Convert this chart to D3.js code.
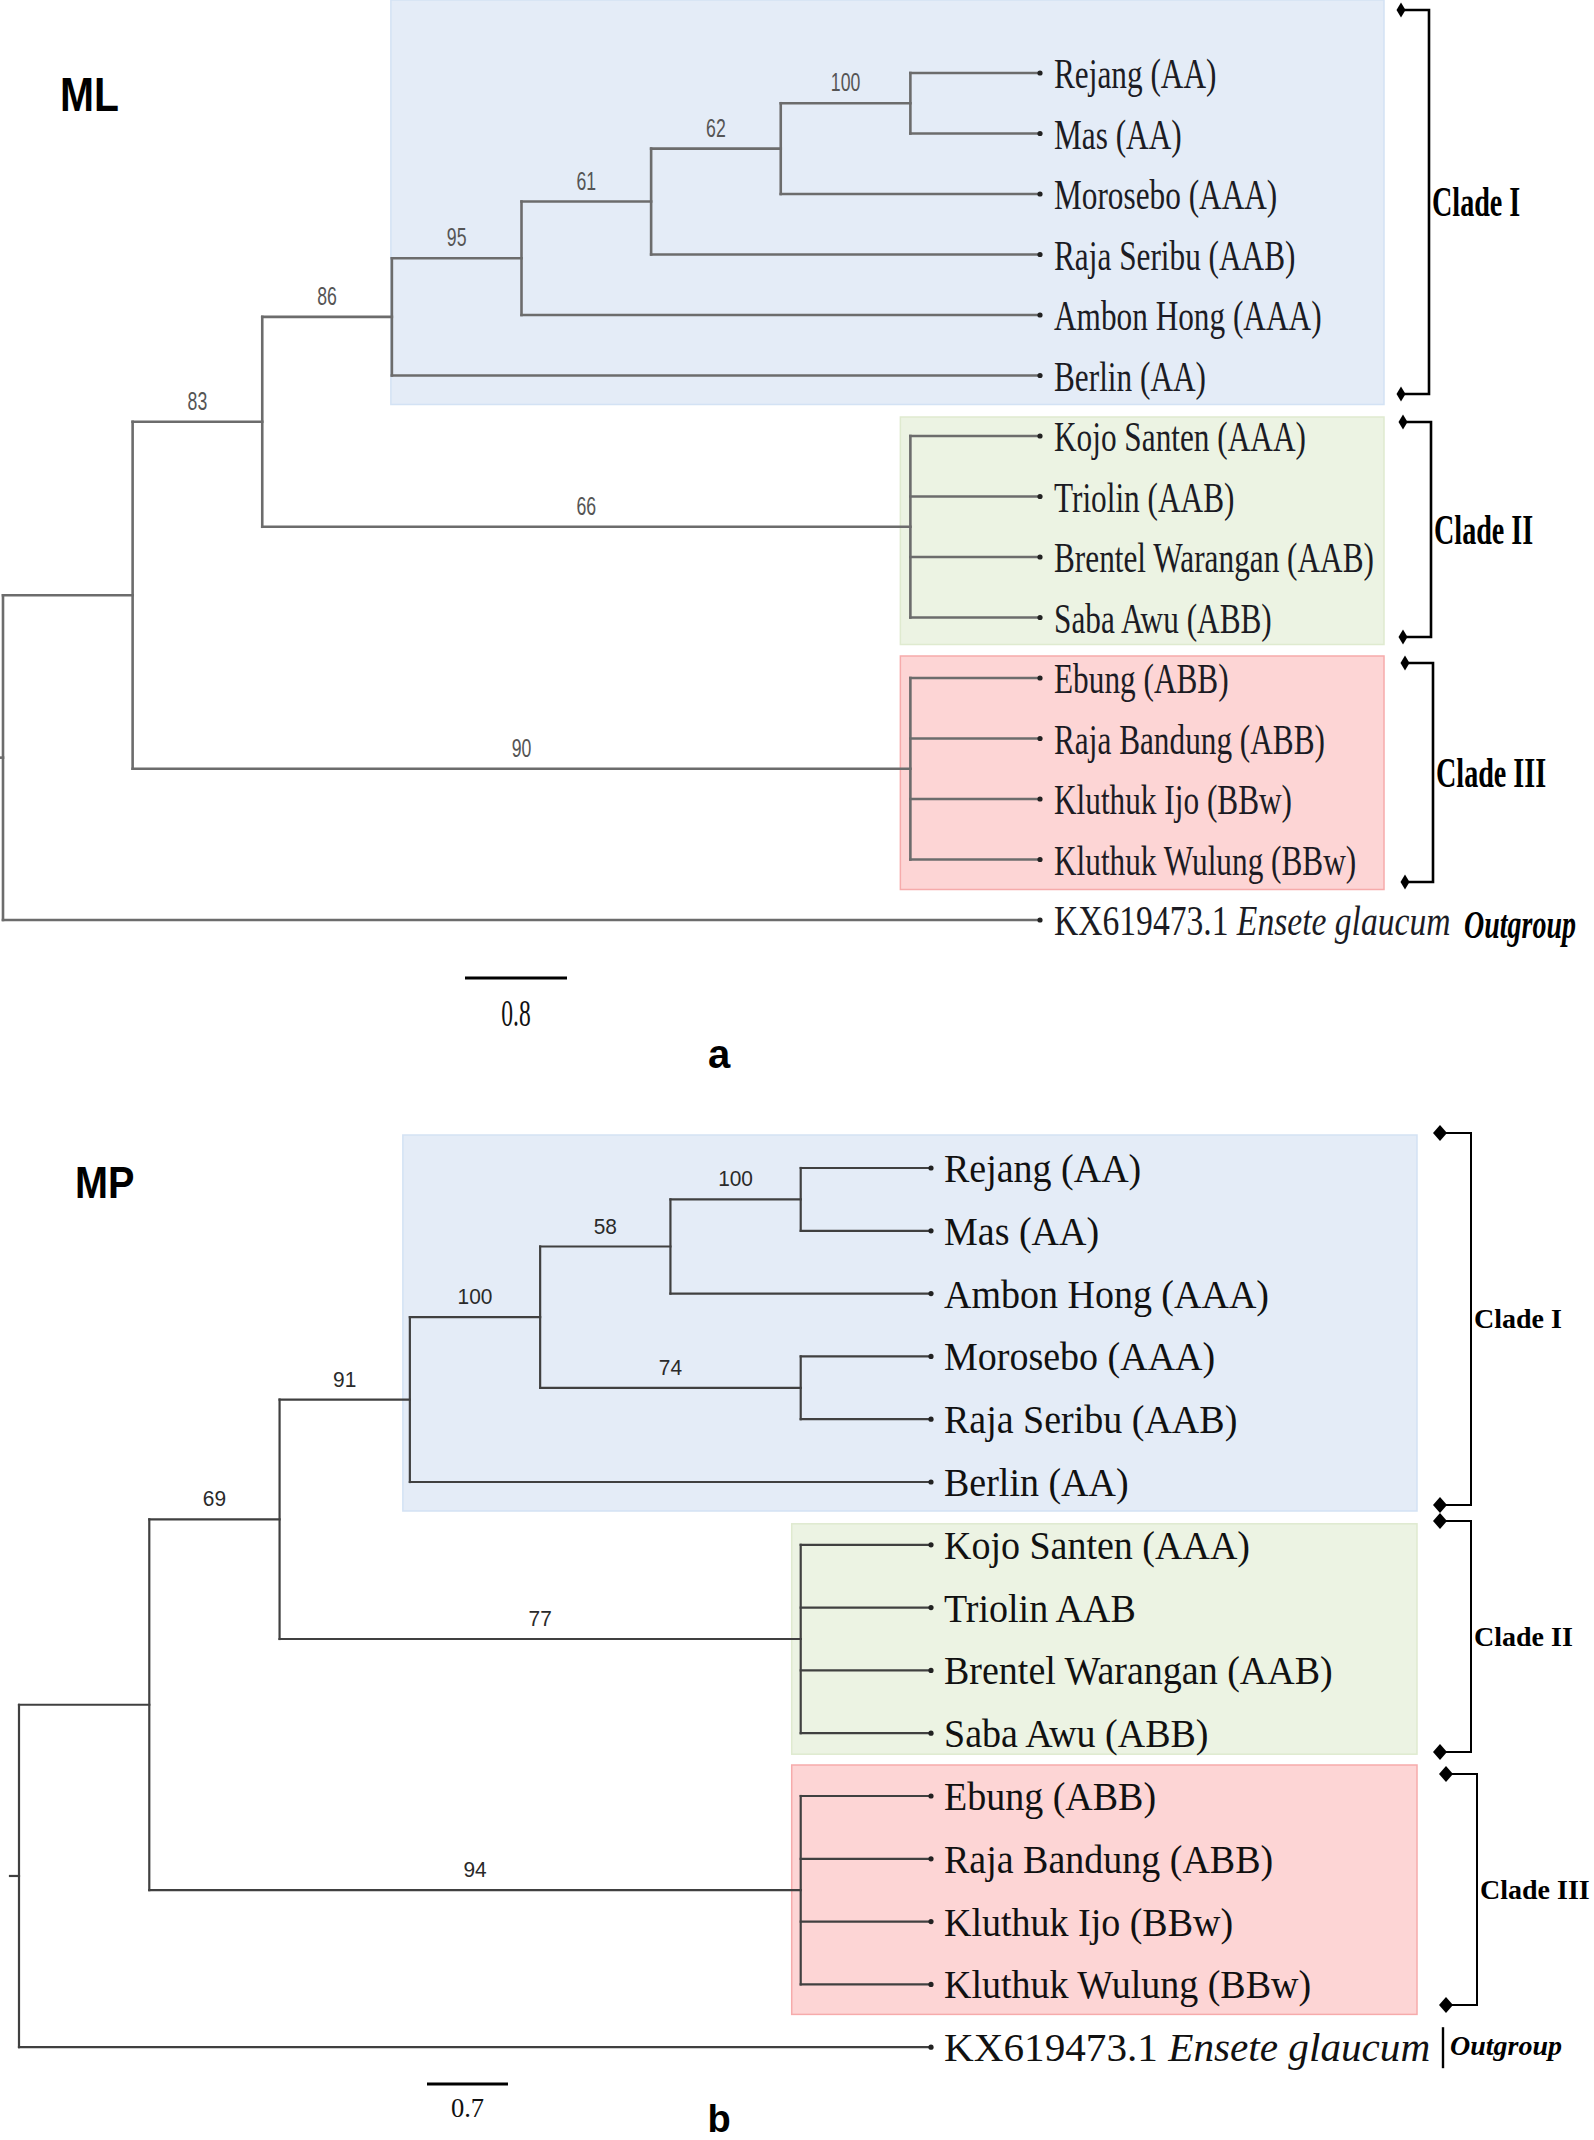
<!DOCTYPE html>
<html><head><meta charset="utf-8">
<script src="https://cdn.jsdelivr.net/npm/d3@7"></script>
<style>body{margin:0;background:#fff} svg{display:block}</style>
</head><body>
<svg id="chart" width="1594" height="2140"></svg>
<script>
// ---------------- DATA ----------------
// edges: [node, parent, bootstrap support]
const mlEdges = [
  ["root", null, null],
  ["n1", "root", null],
  ["n2", "n1", 83],
  ["n3", "n2", 86],
  ["n4", "n3", 95],
  ["n5", "n4", 61],
  ["n6", "n5", 62],
  ["n7", "n6", 100],
  ["Rejang (AA)", "n7", null],
  ["Mas (AA)", "n7", null],
  ["Morosebo (AAA)", "n6", null],
  ["Raja Seribu (AAB)", "n5", null],
  ["Ambon Hong (AAA)", "n4", null],
  ["Berlin (AA)", "n3", null],
  ["c2", "n2", 66],
  ["Kojo Santen (AAA)", "c2", null],
  ["Triolin (AAB)", "c2", null],
  ["Brentel Warangan (AAB)", "c2", null],
  ["Saba Awu (ABB)", "c2", null],
  ["c3", "n1", 90],
  ["Ebung (ABB)", "c3", null],
  ["Raja Bandung (ABB)", "c3", null],
  ["Kluthuk Ijo (BBw)", "c3", null],
  ["Kluthuk Wulung (BBw)", "c3", null],
  ["OUT", "root", null]
];
const mpEdges = [
  ["root", null, null],
  ["n1", "root", null],
  ["n2", "n1", 69],
  ["n3", "n2", 91],
  ["n4", "n3", 100],
  ["n5", "n4", 58],
  ["n6", "n5", 100],
  ["Rejang (AA)", "n6", null],
  ["Mas (AA)", "n6", null],
  ["Ambon Hong (AAA)", "n5", null],
  ["n7", "n4", 74],
  ["Morosebo (AAA)", "n7", null],
  ["Raja Seribu (AAB)", "n7", null],
  ["Berlin (AA)", "n3", null],
  ["c2", "n2", 77],
  ["Kojo Santen (AAA)", "c2", null],
  ["Triolin AAB", "c2", null],
  ["Brentel Warangan (AAB)", "c2", null],
  ["Saba Awu (ABB)", "c2", null],
  ["c3", "n1", 94],
  ["Ebung (ABB)", "c3", null],
  ["Raja Bandung (ABB)", "c3", null],
  ["Kluthuk Ijo (BBw)", "c3", null],
  ["Kluthuk Wulung (BBw)", "c3", null],
  ["OUT", "root", null]
];
const outgroupCode = "KX619473.1";
const outgroupSpecies = "Ensete glaucum";
const outgroupTag = "Outgroup";
const cladeNames = ["Clade I", "Clade II", "Clade III"];
const cladeRootNodes = ["n3", "c2", "c3"];
const mlCladeSpans = [["Rejang (AA)", "Berlin (AA)"], ["Kojo Santen (AAA)", "Saba Awu (ABB)"], ["Ebung (ABB)", "Kluthuk Wulung (BBw)"]];
const mpCladeSpans = [["Rejang (AA)", "Berlin (AA)"], ["Kojo Santen (AAA)", "Saba Awu (ABB)"], ["Ebung (ABB)", "Kluthuk Wulung (BBw)"]];
const panelTitles = ["ML", "MP"];
const panelLetters = ["a", "b"];
const scaleBarValues = [0.8, 0.7];

// ---------------- LAYOUT / STYLE ----------------
const svg = d3.select("#chart");
const boxFills = ["#e4ecf7", "#ecf3e3", "#fdd5d5"];
const boxStrokes = ["#d3e2f4", "#dfeacf", "#f6abab"];

const panels = [
  {
    edges: mlEdges, spans: mlCladeSpans, title: panelTitles[0], letter: panelLetters[0], bar: scaleBarValues[0],
    y0: 73, step: 60.5, xRoot: 3, xTip: 1040, stub: 4,
    line: "#6c6c6c", lw: 2.6,
    labFont: 42, labSX: 0.745, labDX: 14, labDY: 15, labColor: "#1c1c24", outLabSX: 0.8,
    bootFont: 26, bootSX: 0.68, bootColor: "#555", bootDY: 12,
    boxTop: [-73, -19, -22], boxBot: [29, 27, 30], boxDX: [-1, -10, -10], boxRight: 1384,
    brX: [1429, 1431, 1433], brTop: [10, 422, 663], brBot: [394, 637, 882], brTick: 28, mW: 4.5, mH: 7.5, brLW: 2.6,
    cladeFont: 42, cladeSX: 0.67, cladeDY: 14,
    outX: 1464, outDY: 18, outFont: 40, outSX: 0.7, outBar: false,
    titleX: 60, titleY: 111, titleFont: 48, titleSX: 0.85,
    letterX: 719, letterY: 1068, letterFont: 40,
    barX: 465, barY: 978, pxPerUnit: 127.5, barLabY: 1026, barFont: 38, barSX: 0.62
  },
  {
    edges: mpEdges, spans: mpCladeSpans, title: panelTitles[1], letter: panelLetters[1], bar: scaleBarValues[1],
    y0: 1168, step: 62.8, xRoot: 19, xTip: 931, stub: 9,
    line: "#404040", lw: 2.2,
    labFont: 40, labSX: 0.95, labDX: 13, labDY: 14, labColor: "#111", outLabSX: 1.03,
    bootFont: 22, bootSX: 0.95, bootColor: "#2a2a2a", bootDY: 13,
    boxTop: [-33, -21, -31], boxBot: [29, 21, 30], boxDX: [-7, -9, -9], boxRight: 1417,
    brX: [1471, 1471, 1477], brTop: [1133, 1521, 1774], brBot: [1505, 1752, 2005], brTick: 31, mW: 7, mH: 8, brLW: 2,
    cladeFont: 28, cladeSX: 1, cladeDY: 9,
    outX: 1450, outDY: 8, outFont: 28, outSX: 1, outBar: true,
    titleX: 75, titleY: 1198, titleFont: 44, titleSX: 0.9,
    letterX: 719, letterY: 2132, letterFont: 38,
    barX: 427, barY: 2084, pxPerUnit: 115.7, barLabY: 2117, barFont: 28, barSX: 0.95
  }
];

function sText(g, x, y, sx, txt) {
  return g.append("text").attr("transform", `translate(${x},${y}) scale(${sx},1)`).text(txt);
}

panels.forEach(P => {
  const g = svg.append("g");
  const root = d3.stratify().id(d => d[0]).parentId(d => d[1])(P.edges);
  const nLeaves = root.leaves().length;
  // d3.cluster pads half a step at each end, so size by nLeaves steps
  d3.cluster().size([nLeaves * P.step, P.xTip - P.xRoot]).separation(() => 1)(root);
  const X = d => P.xRoot + d.y;                 // horizontal position
  const Y = d => P.y0 - P.step / 2 + d.x;       // vertical position
  const byId = new Map(root.descendants().map(d => [d.id, d]));

  // clade boxes
  P.spans.forEach((s, i) => {
    const a = byId.get(s[0]), b = byId.get(s[1]), cn = byId.get(cladeRootNodes[i]);
    const x0 = X(cn) + P.boxDX[i];
    const y0 = Math.max(0, Y(a) + P.boxTop[i]);
    const y1 = Y(b) + P.boxBot[i];
    g.append("rect").attr("x", x0).attr("y", y0).attr("width", P.boxRight - x0).attr("height", y1 - y0)
      .attr("fill", boxFills[i]).attr("stroke", boxStrokes[i]).attr("stroke-width", 1.5);
  });

  const tree = g.append("g").attr("stroke", P.line).attr("stroke-width", P.lw).attr("fill", "none").attr("stroke-linecap", "square");
  tree.selectAll(".h").data(root.descendants().filter(d => d.parent)).join("line")
    .attr("x1", d => X(d.parent)).attr("x2", d => X(d)).attr("y1", d => Y(d)).attr("y2", d => Y(d));
  tree.selectAll(".v").data(root.descendants().filter(d => d.children)).join("line")
    .attr("x1", d => X(d)).attr("x2", d => X(d))
    .attr("y1", d => Y(d.children[0])).attr("y2", d => Y(d.children[d.children.length - 1]));
  tree.append("line").attr("x1", X(root) - P.stub).attr("x2", X(root)).attr("y1", Y(root)).attr("y2", Y(root));

  // bootstrap labels
  g.selectAll(".boot").data(root.descendants().filter(d => d.parent && d.data[2] != null)).join("text")
    .attr("transform", d => `translate(${(X(d.parent) + X(d)) / 2},${Y(d) - P.bootDY}) scale(${P.bootSX},1)`)
    .attr("text-anchor", "middle").attr("font-family", "Liberation Sans, Arial, sans-serif")
    .attr("font-size", P.bootFont).attr("fill", P.bootColor).text(d => d.data[2]);

  // tips + labels
  const leaves = root.leaves();
  g.selectAll(".tip").data(leaves).join("circle").attr("cx", d => X(d)).attr("cy", d => Y(d)).attr("r", 2.6).attr("fill", "#222");
  leaves.forEach(d => {
    const isOut = d.id === "OUT";
    const t = g.append("text")
      .attr("transform", `translate(${X(d) + P.labDX},${Y(d) + P.labDY}) scale(${isOut ? P.outLabSX : P.labSX},1)`)
      .attr("font-family", "Liberation Serif, Times New Roman, serif").attr("font-size", P.labFont).attr("fill", P.labColor);
    if (isOut) {
      t.append("tspan").text(outgroupCode + " ");
      t.append("tspan").attr("font-style", "italic").text(outgroupSpecies);
    } else t.text(d.id);
  });

  // outgroup tag
  const outLeaf = byId.get("OUT");
  if (P.outBar) {
    g.append("line").attr("x1", P.outX - 7).attr("x2", P.outX - 7).attr("y1", Y(outLeaf) - 20).attr("y2", Y(outLeaf) + 21)
      .attr("stroke", "#000").attr("stroke-width", 2.4);
  }
  sText(g, P.outX, Y(outLeaf) + P.outDY, P.outSX, outgroupTag)
    .attr("font-family", "Liberation Serif, Times New Roman, serif").attr("font-weight", "bold").attr("font-style", "italic")
    .attr("font-size", P.outFont).attr("fill", "#000");

  // brackets
  cladeNames.forEach((name, i) => {
    const bx = P.brX[i], t = P.brTop[i], b = P.brBot[i], mx = bx - P.brTick;
    g.append("path").attr("d", `M${mx},${t}H${bx}V${b}H${mx}`).attr("fill", "none").attr("stroke", "#000").attr("stroke-width", P.brLW);
    [t, b].forEach(yy => g.append("path")
      .attr("d", `M${mx - P.mW},${yy}L${mx},${yy - P.mH}L${mx + P.mW},${yy}L${mx},${yy + P.mH}Z`).attr("fill", "#000"));
    sText(g, bx + 3, (t + b) / 2 + P.cladeDY, P.cladeSX, name)
      .attr("font-family", "Liberation Serif, Times New Roman, serif").attr("font-weight", "bold")
      .attr("font-size", P.cladeFont).attr("fill", "#000");
  });

  // title
  sText(g, P.titleX, P.titleY, P.titleSX, P.title).attr("font-family", "Liberation Sans, Arial, sans-serif")
    .attr("font-weight", "bold").attr("font-size", P.titleFont).attr("fill", "#000");
  // panel letter
  g.append("text").attr("x", P.letterX).attr("y", P.letterY).attr("text-anchor", "middle")
    .attr("font-family", "Liberation Sans, Arial, sans-serif").attr("font-weight", "bold").attr("font-size", P.letterFont).text(P.letter);

  // scale bar
  const barScale = d3.scaleLinear().domain([0, P.bar]).range([P.barX, P.barX + P.bar * P.pxPerUnit]);
  g.append("line").attr("x1", barScale(0)).attr("x2", barScale(P.bar)).attr("y1", P.barY).attr("y2", P.barY)
    .attr("stroke", "#000").attr("stroke-width", 3);
  sText(g, (barScale(0) + barScale(P.bar)) / 2, P.barLabY, P.barSX, String(P.bar))
    .attr("text-anchor", "middle").attr("font-family", "Liberation Serif, Times New Roman, serif")
    .attr("font-size", P.barFont).attr("fill", "#111");
});
</script>
</body></html>
